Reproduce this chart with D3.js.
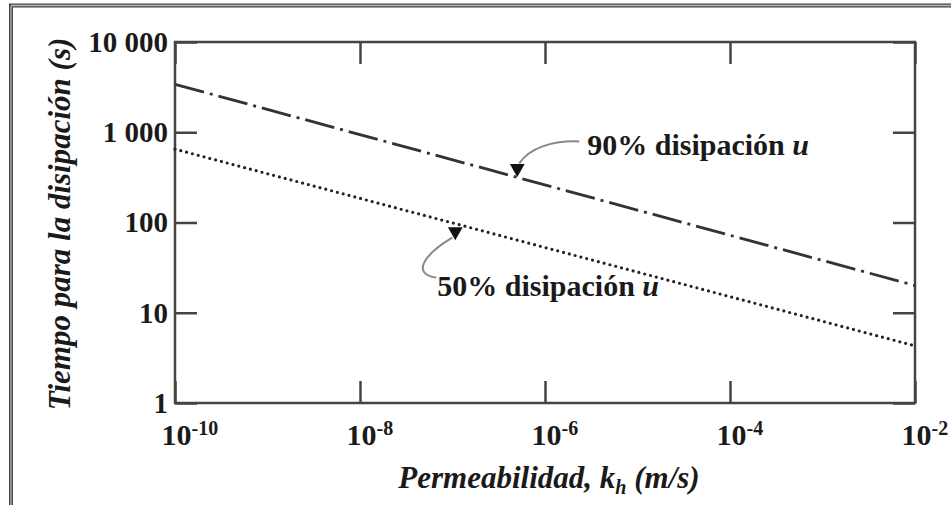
<!DOCTYPE html>
<html>
<head>
<meta charset="utf-8">
<script src="https://cdn.jsdelivr.net/npm/d3@7"></script>
<style>
  body { margin: 0; background: #fff; }
  svg { display: block; }
  text { font-family: "Liberation Serif", "Times New Roman", serif; font-weight: bold; fill: #1a1a1a; }
</style>
</head>
<body>
<svg width="951" height="505"></svg>
<script>
// data
const kh = [1e-10, 1e-2];              // permeability (m/s)
const t90 = [3400, 20];                // time for 90% dissipation (s)
const t50 = [650, 4.3];                // time for 50% dissipation (s)
const xTicks = [1e-10, 1e-8, 1e-6, 1e-4, 1e-2];
const yTicks = [1, 10, 100, 1000, 10000];
const yTickLabels = ["1", "10", "100", "1 000", "10 000"];

// where the annotation arrows point (kh on each line)
const arrowKh90 = 10 ** -6.3;
const arrowKh50 = 10 ** -6.97;

const svg = d3.select("svg");

// outer frame of the scanned figure (top and left edges only)
svg.append("path").attr("d", "M9,5.5H951 M11,4V505")
  .attr("fill", "none").attr("stroke", "#444").attr("stroke-width", 4);
svg.append("path").attr("d", "M11,5.5H951 M11,6V505")
  .attr("fill", "none").attr("stroke", "#bbb").attr("stroke-width", 1.3);

const x = d3.scaleLog().domain([1e-10, 1e-2]).range([175, 915]);
const y = d3.scaleLog().domain([1, 10000]).range([403, 42]);

// axes, ticks pointing inwards
const tick = -22;
svg.append("g").attr("class", "x-axis")
  .attr("transform", "translate(0," + y.range()[0] + ")")
  .call(d3.axisBottom(x).tickValues(xTicks).tickSizeInner(tick).tickSizeOuter(0).tickPadding(21));
svg.append("g")
  .attr("transform", "translate(0," + y.range()[1] + ")")
  .call(d3.axisTop(x).tickValues(xTicks).tickSizeInner(tick).tickSizeOuter(0).tickFormat(""));
svg.append("g").attr("class", "y-axis")
  .attr("transform", "translate(" + x.range()[0] + ",0)")
  .call(d3.axisLeft(y).tickValues(yTicks).tickSizeInner(tick).tickSizeOuter(0).tickPadding(7)
    .tickFormat((d, i) => yTickLabels[i]));
svg.append("g")
  .attr("transform", "translate(" + x.range()[1] + ",0)")
  .call(d3.axisRight(y).tickValues(yTicks).tickSizeInner(tick).tickSizeOuter(0).tickFormat(""));

svg.selectAll(".domain").remove();
svg.selectAll(".tick line").attr("stroke", "#444").attr("stroke-width", 2.5);

// plot box
svg.append("rect")
  .attr("x", x.range()[0]).attr("y", y.range()[1])
  .attr("width", x.range()[1] - x.range()[0]).attr("height", y.range()[0] - y.range()[1])
  .attr("fill", "none").attr("stroke", "#444").attr("stroke-width", 2.5);

svg.selectAll(".y-axis text").attr("font-size", 29).attr("fill", "#1a1a1a")
  .style("font-family", "Liberation Serif").style("font-weight", "bold");

// x tick labels as 10 with a superscript exponent
svg.selectAll(".x-axis .tick text").each(function(d) {
  const t = d3.select(this).text("")
    .attr("font-size", 30).attr("fill", "#1a1a1a").attr("text-anchor", "start")
    .style("font-family", "Liberation Serif").style("font-weight", "bold");
  t.append("tspan").text("10");
  t.append("tspan").attr("font-size", 20).attr("dy", "-0.5em")
    .text(String(Math.round(Math.log10(d))));
  t.attr("x", -14);
});

// lines
const pts = (ts) => kh.map((k, i) => [k, ts[i]]);
const line = d3.line().x(d => x(d[0])).y(d => y(d[1]));

svg.append("path").datum(pts(t90))
  .attr("d", line).attr("fill", "none").attr("stroke", "#333")
  .attr("stroke-width", 2.8).attr("stroke-dasharray", "30,6,3,6");

svg.append("path").datum(pts(t50))
  .attr("d", line).attr("fill", "none").attr("stroke", "#222")
  .attr("stroke-width", 3.2).attr("stroke-linecap", "round").attr("stroke-dasharray", "0,6");

// annotations
function onLine(ts, k) {
  const f = (Math.log10(k) - Math.log10(kh[0])) / (Math.log10(kh[1]) - Math.log10(kh[0]));
  return 10 ** (Math.log10(ts[0]) + f * (Math.log10(ts[1]) - Math.log10(ts[0])));
}
const tip90 = [x(arrowKh90), y(onLine(t90, arrowKh90))];
const tip50 = [x(arrowKh50), y(onLine(t50, arrowKh50))];

const tri = d3.symbol().type(d3.symbolTriangle).size(95);

// 90%
svg.append("path")
  .attr("d", `M${tip90[0] + 62},${tip90[1] - 36} C${tip90[0] + 34},${tip90[1] - 37} ${tip90[0] + 12},${tip90[1] - 29} ${tip90[0] + 2},${tip90[1] - 14}`)
  .attr("fill", "none").attr("stroke", "#888").attr("stroke-width", 2);
svg.append("path").attr("d", tri)
  .attr("transform", `translate(${tip90[0]},${tip90[1] - 9}) rotate(180)`).attr("fill", "#111");
const lab90 = svg.append("text").attr("x", tip90[0] + 70).attr("y", tip90[1] - 22).attr("font-size", 30);
lab90.append("tspan").text("90% disipación ");
lab90.append("tspan").attr("font-style", "italic").text("u");

// 50%
svg.append("path")
  .attr("d", `M${tip50[0] - 3},${tip50[1] + 14} C${tip50[0] - 30},${tip50[1] + 30} ${tip50[0] - 45},${tip50[1] + 50} ${tip50[0] - 19},${tip50[1] + 54}`)
  .attr("fill", "none").attr("stroke", "#888").attr("stroke-width", 2);
svg.append("path").attr("d", tri)
  .attr("transform", `translate(${tip50[0]},${tip50[1] + 8}) rotate(180)`).attr("fill", "#111");
const lab50 = svg.append("text").attr("x", tip50[0] - 18).attr("y", tip50[1] + 72).attr("font-size", 30);
lab50.append("tspan").text("50% disipación ");
lab50.append("tspan").attr("font-style", "italic").text("u");

// axis titles
const xt = svg.append("text").attr("x", 549).attr("y", 488).attr("text-anchor", "middle")
  .attr("font-size", 31).attr("font-style", "italic");
xt.append("tspan").text("Permeabilidad, k");
xt.append("tspan").attr("font-size", 20).attr("dy", 6).text("h");
xt.append("tspan").attr("dy", -6).text(" (m/s)");

svg.append("text").attr("transform", "translate(70,224) rotate(-90)")
  .attr("text-anchor", "middle").attr("font-size", 31).attr("font-style", "italic")
  .text("Tiempo para la disipación (s)");
</script>
</body>
</html>
